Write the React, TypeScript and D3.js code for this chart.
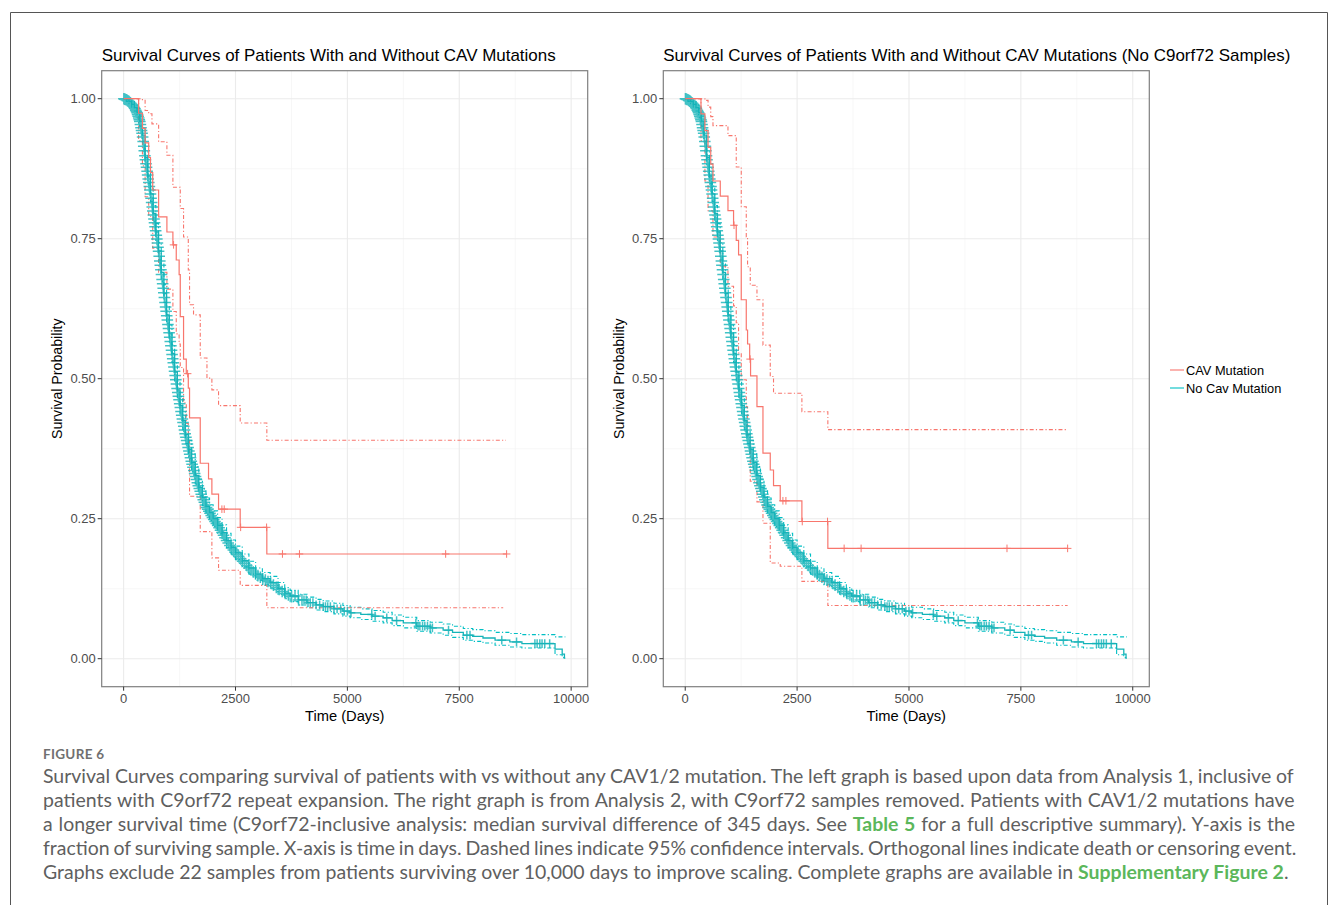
import React from 'react';
import * as d3 from 'd3';

// ---------------- data ----------------
const xTickValues = [0, 2500, 5000, 7500, 10000];
const xTickLabels = ['0', '2500', '5000', '7500', '10000'];
const xMinorValues = [1250, 3750, 6250, 8750];
const yTickValues = [0, 0.25, 0.5, 0.75, 1];
const yTickLabels = ['0.00', '0.25', '0.50', '0.75', '1.00'];
const yMinorValues = [0.125, 0.375, 0.625, 0.875];

const seriesNames = ['CAV Mutation', 'No Cav Mutation'];

// No Cav Mutation (teal) – estimate and 95% CI
const tealTime = [0, 60, 120, 180, 240, 300, 360, 420, 480, 540, 600, 660, 720, 780, 840, 900, 960, 1020, 1080, 1140, 1200, 1260, 1320, 1380, 1450, 1520, 1600, 1680, 1760, 1840, 1920, 2000, 2100, 2200, 2300, 2400, 2500, 2650, 2800, 2950, 3100, 3274, 3450, 3600, 3721, 3900, 4100, 4300, 4460, 4700, 4900, 5060, 5300, 5550, 5800, 6000, 6250, 6550, 6850, 7140, 7350, 7590, 7800, 8030, 8300, 8630, 8900, 9640, 9800, 9850, 9870];
const tealSurv = [1.0, 0.998, 0.995, 0.99, 0.984, 0.975, 0.96, 0.935, 0.895, 0.862, 0.83, 0.795, 0.762, 0.728, 0.69, 0.652, 0.614, 0.58, 0.545, 0.512, 0.48, 0.452, 0.425, 0.4, 0.374, 0.35, 0.327, 0.306, 0.288, 0.272, 0.261, 0.25, 0.238, 0.225, 0.211, 0.199, 0.189, 0.175, 0.162, 0.151, 0.143, 0.136, 0.125, 0.117, 0.112, 0.105, 0.1, 0.096, 0.093, 0.089, 0.085, 0.082, 0.079, 0.076, 0.073, 0.068, 0.064, 0.058, 0.055, 0.051, 0.047, 0.042, 0.04, 0.037, 0.033, 0.03, 0.027, 0.017, 0.008, 0.001, 0.001];
const tealUpper = [1.0, 1.0, 0.999, 0.995, 0.99, 0.982, 0.969, 0.946, 0.907, 0.875, 0.844, 0.809, 0.777, 0.743, 0.706, 0.668, 0.63, 0.596, 0.561, 0.528, 0.496, 0.468, 0.441, 0.416, 0.39, 0.366, 0.343, 0.321, 0.303, 0.287, 0.275, 0.264, 0.252, 0.239, 0.224, 0.212, 0.201, 0.187, 0.174, 0.162, 0.154, 0.147, 0.136, 0.127, 0.122, 0.115, 0.11, 0.106, 0.103, 0.099, 0.095, 0.092, 0.089, 0.086, 0.083, 0.078, 0.074, 0.068, 0.065, 0.062, 0.058, 0.054, 0.052, 0.05, 0.047, 0.045, 0.043, 0.039, 0.039, 0.039, 0.039];
const tealLower = [1.0, 0.995, 0.991, 0.985, 0.978, 0.967, 0.951, 0.924, 0.883, 0.849, 0.816, 0.78, 0.747, 0.712, 0.674, 0.636, 0.598, 0.564, 0.529, 0.496, 0.464, 0.436, 0.409, 0.384, 0.358, 0.334, 0.312, 0.291, 0.273, 0.258, 0.247, 0.236, 0.224, 0.212, 0.198, 0.187, 0.177, 0.164, 0.151, 0.14, 0.132, 0.125, 0.115, 0.107, 0.102, 0.096, 0.091, 0.087, 0.084, 0.08, 0.076, 0.073, 0.07, 0.067, 0.064, 0.059, 0.055, 0.049, 0.046, 0.042, 0.038, 0.033, 0.031, 0.028, 0.024, 0.021, 0.019, 0.007, 0.002, 0.0, 0.0];
const tealCensor = [5, 25, 40, 60, 80, 95, 115, 130, 150, 165, 185, 200, 215, 235, 250, 270, 285, 300,
  312, 325, 338, 350, 362, 375, 388, 400, 412, 425, 437, 450, 462, 475, 487, 500, 512, 525, 537, 550, 562, 575, 587, 600,
  613, 626, 640, 652, 665, 678, 690, 703, 716, 730, 742, 755, 768, 781, 795, 808, 820, 833, 846, 860, 872, 885, 898, 911,
  925, 938, 950, 963, 976, 990, 1003, 1016, 1030, 1043, 1056, 1070, 1083, 1097, 1110, 1124, 1138, 1152, 1166, 1180, 1195,
  1210, 1224, 1238, 1253, 1268, 1283, 1298, 1313, 1328, 1344, 1360, 1376, 1392, 1408, 1425, 1442, 1459, 1476, 1494, 1512,
  1530, 1549, 1568, 1587, 1607, 1627, 1648, 1669, 1690, 1712, 1734, 1757, 1780, 1804, 1828, 1853, 1878, 1904, 1930, 1957,
  1985, 2013, 2042, 2072, 2102, 2133, 2165, 2198, 2232, 2266, 2301, 2337, 2374, 2412, 2451, 2490, 2531, 2572, 2615, 2659,
  2704, 2750, 2798, 2847, 2897, 2948, 3001, 3055, 3110, 3167, 3226, 3286, 3348, 3411, 3476, 3543, 3611, 3681, 3753,
  3830, 3910, 3985, 4030, 4080, 4120, 4170, 4230, 4300, 4380, 4460, 4510, 4560, 4620, 4700, 4770, 4850, 4930, 5000, 5080,
  5545, 5620, 5880, 6100, 6530, 6580, 6620, 6680, 6730, 6790, 6850, 6900, 7260, 7670, 7740, 8450, 8780, 9190, 9240, 9300,
  9350, 9410, 9520];

// CAV Mutation (red) – left panel (Analysis 1)
const redTimeA = [0, 335, 420, 480, 560, 600, 650, 782, 967, 1101, 1176, 1240, 1266, 1339, 1400, 1445, 1473, 1712, 1897, 1972, 2121, 2605, 3200, 8558];
const redSurvA = [1.0, 0.974, 0.947, 0.921, 0.895, 0.868, 0.837, 0.789, 0.762, 0.739, 0.712, 0.686, 0.611, 0.535, 0.509, 0.483, 0.43, 0.349, 0.321, 0.294, 0.267, 0.2346, 0.187, 0.187];
const redCensorA = [1116, 1430, 2196, 2248, 2615, 3195, 3549, 3929, 7196, 8558];
const redUpTimeA = [0, 335, 420, 480, 560, 633, 782, 967, 1101, 1266, 1339, 1445, 1473, 1562, 1712, 1862, 1972, 2121, 2605, 3200, 8544];
const redUpA = [1.0, 1.0, 0.997, 0.979, 0.973, 0.955, 0.923, 0.899, 0.842, 0.804, 0.753, 0.694, 0.632, 0.614, 0.537, 0.501, 0.48, 0.452, 0.421, 0.39, 0.39];
const redLoTimeA = [0, 335, 420, 480, 560, 650, 782, 967, 1101, 1176, 1240, 1266, 1339, 1400, 1445, 1473, 1712, 1972, 2121, 2605, 3200, 8482];
const redLoA = [1.0, 0.925, 0.88, 0.825, 0.79, 0.733, 0.69, 0.66, 0.62, 0.58, 0.562, 0.52, 0.457, 0.42, 0.39, 0.29, 0.227, 0.18, 0.158, 0.131, 0.091, 0.091];

// CAV Mutation (red) – right panel (Analysis 2, no C9orf72)
const redTimeB = [0, 352, 440, 510, 570, 620, 783, 955, 1080, 1140, 1192, 1252, 1364, 1393, 1440, 1460, 1603, 1737, 1900, 1973, 2123, 2607, 3187, 8545];
const redSurvB = [1.0, 0.973, 0.943, 0.913, 0.883, 0.853, 0.826, 0.8, 0.774, 0.747, 0.721, 0.641, 0.587, 0.562, 0.535, 0.505, 0.45, 0.367, 0.337, 0.309, 0.282, 0.245, 0.197, 0.197];
const redCensorB = [1090, 1450, 2183, 2250, 2615, 3180, 3551, 3930, 7190, 8545];
const redUpTimeB = [0, 352, 440, 510, 570, 620, 955, 1140, 1252, 1364, 1393, 1453, 1603, 1737, 1900, 1973, 2607, 3187, 8522];
const redUpB = [1.0, 1.0, 0.997, 0.985, 0.968, 0.952, 0.934, 0.878, 0.807, 0.753, 0.7, 0.667, 0.641, 0.56, 0.504, 0.474, 0.441, 0.409, 0.409];
const redLoTimeB = [0, 352, 440, 510, 620, 783, 955, 1080, 1140, 1192, 1252, 1364, 1393, 1453, 1603, 1737, 1900, 2123, 2607, 3187, 8545];
const redLoB = [1.0, 0.925, 0.853, 0.8, 0.753, 0.7, 0.665, 0.63, 0.6, 0.546, 0.498, 0.45, 0.4, 0.317, 0.28, 0.242, 0.171, 0.165, 0.138, 0.095, 0.095];

const titleA = 'Survival Curves of Patients With and Without CAV Mutations';
const titleB = 'Survival Curves of Patients With and Without CAV Mutations (No C9orf72 Samples)';
const xAxisTitle = 'Time (Days)';
const yAxisTitle = 'Survival Probability';

const figureLabel = 'FIGURE 6';
type Seg = { t: string; link?: boolean };
const captionLines: Seg[][] = [
  [{ t: 'Survival Curves comparing survival of patients with vs without any CAV1/2 mutation. The left graph is based upon data from Analysis 1, inclusive of' }],
  [{ t: 'patients with C9orf72 repeat expansion. The right graph is from Analysis 2, with C9orf72 samples removed. Patients with CAV1/2 mutations have' }],
  [{ t: 'a longer survival time (C9orf72-inclusive analysis: median survival difference of 345 days. See ' }, { t: 'Table 5', link: true }, { t: ' for a full descriptive summary). Y-axis is the' }],
  [{ t: 'fraction of surviving sample. X-axis is time in days. Dashed lines indicate 95% confidence intervals. Orthogonal lines indicate death or censoring event.' }],
  [{ t: 'Graphs exclude 22 samples from patients surviving over 10,000 days to improve scaling. Complete graphs are available in ' }, { t: 'Supplementary Figure 2', link: true }, { t: '.' }],
];

// ---------------- styling ----------------
const RED = '#F8766D';
const TEAL = '#00BFC4';
const TEAL_MARK = '#14B3B8';
const SANS = '"Liberation Sans", Arial, Helvetica, sans-serif';
const CAP_FONT = 'Lato';
const PANEL = { left: 101.7, right: 587.7, top: 70.7, bottom: 686.7 };
const DX = 561.6;
const DASH = '1.2,2.2,4,2.2';

function stepValue(times: number[], vals: number[], t: number) {
  let v = vals[0];
  for (let i = 0; i < times.length; i++) {
    if (times[i] <= t) v = vals[i];
    else break;
  }
  return v;
}

function plus(cx: number, cy: number, r: number) {
  return `M${cx - r},${cy}h${2 * r}M${cx},${cy - r}v${2 * r}`;
}

function Panel({ ox, title, titleW, red }: any) {
  const x = d3.scaleLinear().domain([-490, 10370]).range([PANEL.left + ox, PANEL.right + ox]);
  const y = d3.scaleLinear().domain([-0.05, 1.05]).range([PANEL.bottom, PANEL.top]);
  const line = d3
    .line<[number, number]>()
    .x((d) => x(d[0]))
    .y((d) => y(d[1]))
    .curve(d3.curveStepAfter);
  const zip = (ts: number[], vs: number[]) => ts.map((t, i) => [t, vs[i]] as [number, number]);
  const tealInterp = d3.scaleLinear().domain(tealTime).range(tealSurv);
  const tealMarks = tealCensor
    .map((t) => {
      const s = t < 3800 ? tealInterp(t) : stepValue(tealTime, tealSurv, t);
      return plus(x(t), y(s), t < 4000 ? 5.8 : 4.4);
    })
    .join('');
  const redMarks = red.censor.map((t: number) => plus(x(t), y(stepValue(red.time, red.surv, t)), 3.8)).join('');
  const pl = PANEL.left + ox;
  const pr = PANEL.right + ox;
  const cx = (pl + pr) / 2;
  const cy = (PANEL.top + PANEL.bottom) / 2;
  return (
    <g>
      <text x={pl} y={61} fontFamily={SANS} fontSize={17} fill="#000" textLength={titleW} lengthAdjust="spacingAndGlyphs">
        {title}
      </text>
      <rect x={pl} y={PANEL.top} width={pr - pl} height={PANEL.bottom - PANEL.top} fill="#fff" />
      {xMinorValues.map((v) => (
        <line key={'xm' + v} x1={x(v)} x2={x(v)} y1={PANEL.top} y2={PANEL.bottom} stroke="#f2f2f2" strokeWidth={0.6} />
      ))}
      {yMinorValues.map((v) => (
        <line key={'ym' + v} x1={pl} x2={pr} y1={y(v)} y2={y(v)} stroke="#f2f2f2" strokeWidth={0.6} />
      ))}
      {xTickValues.map((v) => (
        <line key={'xg' + v} x1={x(v)} x2={x(v)} y1={PANEL.top} y2={PANEL.bottom} stroke="#ebebeb" strokeWidth={1.1} />
      ))}
      {yTickValues.map((v) => (
        <line key={'yg' + v} x1={pl} x2={pr} y1={y(v)} y2={y(v)} stroke="#ebebeb" strokeWidth={1.1} />
      ))}
      {/* confidence intervals */}
      <path d={line(zip(tealTime, tealUpper)) || ''} fill="none" stroke={TEAL} strokeWidth={1.1} strokeDasharray={DASH} />
      <path d={line(zip(tealTime, tealLower)) || ''} fill="none" stroke={TEAL} strokeWidth={1.1} strokeDasharray={DASH} />
      <path d={line(zip(red.upT, red.up)) || ''} fill="none" stroke={RED} strokeWidth={1.1} strokeDasharray={DASH} />
      <path d={line(zip(red.loT, red.lo)) || ''} fill="none" stroke={RED} strokeWidth={1.1} strokeDasharray={DASH} />
      {/* estimates */}
      <path d={tealMarks} fill="none" stroke={TEAL_MARK} strokeWidth={1.5} strokeOpacity={0.8} />
      <path d={line(zip(tealTime, tealSurv)) || ''} fill="none" stroke={TEAL_MARK} strokeWidth={1.3} />
      <path d={line(zip(red.time, red.surv)) || ''} fill="none" stroke={RED} strokeWidth={1.2} />
      <path d={redMarks} fill="none" stroke={RED} strokeWidth={1} />
      {/* border */}
      <rect x={pl} y={PANEL.top} width={pr - pl} height={PANEL.bottom - PANEL.top} fill="none" stroke="#7f7f7f" strokeWidth={1.2} />
      {/* ticks */}
      {xTickValues.map((v, i) => (
        <g key={'xt' + v}>
          <line x1={x(v)} x2={x(v)} y1={PANEL.bottom} y2={PANEL.bottom + 4} stroke="#333" strokeWidth={1} />
          <text x={x(v)} y={703} textAnchor="middle" fontFamily={SANS} fontSize={13} fill="#4d4d4d">
            {xTickLabels[i]}
          </text>
        </g>
      ))}
      {yTickValues.map((v, i) => (
        <g key={'yt' + v}>
          <line x1={pl - 4} x2={pl} y1={y(v)} y2={y(v)} stroke="#333" strokeWidth={1} />
          <text x={pl - 6} y={y(v) + 4.6} textAnchor="end" fontFamily={SANS} fontSize={13} fill="#4d4d4d">
            {yTickLabels[i]}
          </text>
        </g>
      ))}
      <text x={cx} y={721} textAnchor="middle" fontFamily={SANS} fontSize={14.7} fill="#000">
        {xAxisTitle}
      </text>
      <text transform={`translate(${pl - 39.5},${cy}) rotate(-90)`} textAnchor="middle" fontFamily={SANS} fontSize={14.2} fill="#000">
        {yAxisTitle}
      </text>
    </g>
  );
}

let ctx: CanvasRenderingContext2D | null = null;
function measure(text: string, font: string) {
  if (!ctx) ctx = document.createElement('canvas').getContext('2d');
  if (!ctx) return text.length * 8;
  ctx.font = font;
  return ctx.measureText(text).width;
}

function Caption() {
  const baseFs = 17;
  const lineWidth = (segs: Seg[], fs: number) =>
    segs.reduce((a, s) => a + measure(s.t, `${s.link ? 'bold ' : ''}${fs}px ${CAP_FONT}`), 0);
  const last = captionLines[captionLines.length - 1];
  const w5 = lineWidth(last, baseFs);
  const fs = baseFs * (1247 / w5);
  const left = 43;
  const full = 1254;
  const baselines = [783, 807, 831, 855, 879];
  return (
    <g>
      <text x={left} y={759} fontFamily={CAP_FONT} fontWeight={700} fontSize={13.5} fill="#707070" letterSpacing={0.3}>
        {figureLabel}
      </text>
      {captionLines.map((segs, i) => {
        const isLast = i === captionLines.length - 1;
        const nat = lineWidth(segs, fs);
        const spaces = segs.reduce((a, s) => a + (s.t.match(/ /g) || []).length, 0);
        const ws = isLast ? 0 : (full - nat) / spaces;
        return (
          <text key={i} x={left} y={baselines[i]} fontFamily={CAP_FONT} fontSize={fs} fill="#5f5f5f" style={{ wordSpacing: `${ws}px`, whiteSpace: 'pre' }}>
            {segs.map((s, j) => (
              <tspan key={j} fontWeight={s.link ? 700 : 400} fill={s.link ? '#5BB75B' : '#5f5f5f'}>
                {s.t}
              </tspan>
            ))}
          </text>
        );
      })}
    </g>
  );
}

export default function App() {
  const redA = { time: redTimeA, surv: redSurvA, censor: redCensorA, upT: redUpTimeA, up: redUpA, loT: redLoTimeA, lo: redLoA };
  const redB = { time: redTimeB, surv: redSurvB, censor: redCensorB, upT: redUpTimeB, up: redUpB, loT: redLoTimeB, lo: redLoB };
  return (
    <svg width={1331} height={905} style={{ position: 'absolute', left: 0, top: 0, display: 'block', background: '#fff' }}>
      <rect x={0} y={0} width={1331} height={905} fill="#fff" />
      <path d="M10.5,905V12.5H1327.5V905" fill="none" stroke="#555" strokeWidth={1} />
      <Panel ox={0} title={titleA} titleW={454} red={redA} />
      <Panel ox={DX} title={titleB} titleW={627} red={redB} />
      {/* legend */}
      <g fontFamily={SANS} fontSize={12.8} fill="#000">
        <line x1={1170} x2={1184} y1={370} y2={370} stroke={RED} strokeWidth={1.1} />
        <text x={1186} y={374.5}>{seriesNames[0]}</text>
        <line x1={1170} x2={1184} y1={388} y2={388} stroke={TEAL} strokeWidth={1.1} />
        <text x={1186} y={392.5}>{seriesNames[1]}</text>
      </g>
      <Caption />
    </svg>
  );
}
